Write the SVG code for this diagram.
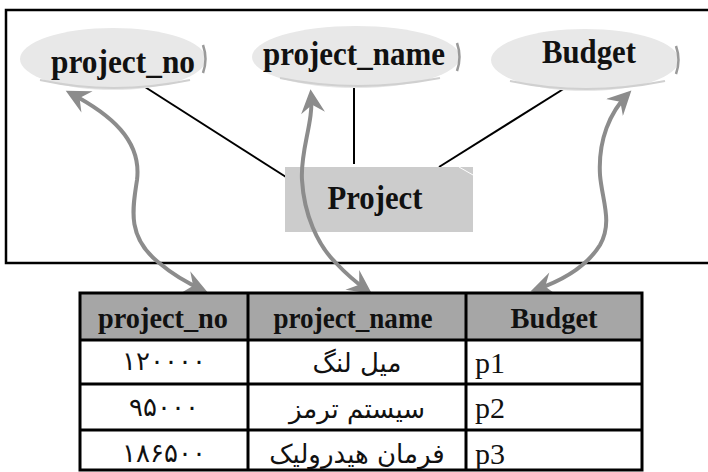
<svg xmlns="http://www.w3.org/2000/svg" width="708" height="472" viewBox="0 0 708 472">
<style>
  .attr { fill: #e8e8e8; }
  .attrEdge { fill: none; stroke: #9a9a9a; stroke-width: 2.5; }
  .lbl { font-family: "Liberation Serif", "Times New Roman", serif; font-weight: bold; font-size: 33px; fill: #111; text-anchor: middle; }
  .hdr { font-family: "Liberation Serif", "Times New Roman", serif; font-weight: bold; font-size: 30px; fill: #111; text-anchor: middle; }
  .cellL { font-family: "Liberation Serif", "Times New Roman", serif; font-size: 30px; fill: #111; }
  .fa { font-family: "DejaVu Sans", "Noto Sans", sans-serif; font-size: 26px; fill: #111; text-anchor: middle; }
  .conn { stroke: #000; stroke-width: 2; fill: none; }
  .arr { stroke: #8c8c8c; stroke-width: 4; fill: none; marker-start: url(#ah); marker-end: url(#ah); }
  .grid { stroke: #000; stroke-width: 3; fill: none; }
</style>
<defs>
  <marker id="ah" viewBox="0 0 10 10" refX="8" refY="5" markerWidth="7" markerHeight="6" orient="auto-start-reverse" markerUnits="strokeWidth">
    <path d="M0,0 L10,5 L0,10 L3.5,5 z" fill="#8c8c8c"/>
  </marker>
</defs>
<rect x="0" y="0" width="708" height="472" fill="#fff"/>
<g id="frame">
  <rect x="6" y="10" width="712" height="253" fill="none" stroke="#000" stroke-width="2.5"/>
</g>
<g id="connectors">
  <line class="conn" x1="145" y1="87" x2="286" y2="177"/>
  <line class="conn" x1="354" y1="88" x2="354" y2="164"/>
  <line class="conn" x1="565" y1="88" x2="439" y2="167"/>
</g>
<g id="attr_project_no">
  <ellipse class="attr" cx="113" cy="59" rx="93" ry="31"/>
  <path class="attrEdge" d="M203,45 Q208,59 203,73"/>
  <path d="M40,80 Q113,96 190,80" fill="none" stroke="#d0d0d0" stroke-width="2"/>
  <text class="lbl" x="123" y="73" textLength="144" lengthAdjust="spacingAndGlyphs">project_no</text>
</g>
<g id="attr_project_name">
  <ellipse class="attr" cx="356" cy="57" rx="104" ry="31"/>
  <path class="attrEdge" d="M457,43 Q462,57 457,71"/>
  <path d="M280,78 Q356,94 440,78" fill="none" stroke="#d0d0d0" stroke-width="2"/>
  <text class="lbl" x="354" y="65" textLength="182" lengthAdjust="spacingAndGlyphs">project_name</text>
</g>
<g id="attr_budget">
  <ellipse class="attr" cx="585" cy="60" rx="94" ry="31"/>
  <path class="attrEdge" d="M676,46 Q681,60 676,74"/>
  <path d="M510,81 Q585,97 665,81" fill="none" stroke="#d0d0d0" stroke-width="2"/>
  <text class="lbl" x="589" y="63" textLength="94" lengthAdjust="spacingAndGlyphs">Budget</text>
</g>
<g id="entity_project">
  <rect x="285" y="167" width="188" height="65" fill="#cccccc"/>
  <line x1="459" y1="167" x2="473" y2="175" stroke="#fff" stroke-width="1"/>
  <text class="lbl" x="375" y="209" textLength="95" lengthAdjust="spacingAndGlyphs">Project</text>
</g>
<g id="mapping_arrows">
  <path class="arr" d="M70,93 C110,114 142,140 137,180 C133,207 126,236 158,262 Q178,279 203,290"/>
  <path class="arr" d="M311,94 C314,122 300,150 302,180 C304,215 318,245 335,262 Q351,279 368,291"/>
  <path class="arr" d="M628,94 C610,112 598,140 600,175 C602,200 613,222 600,245 Q582,274 535,290"/>
</g>
<g id="table">
  <rect x="80" y="293" width="562" height="47" fill="#a6a6a6"/>
  <rect x="80" y="293" width="562" height="177" class="grid"/>
  <line class="grid" x1="80" y1="340" x2="642" y2="340"/>
  <line class="grid" x1="80" y1="384" x2="642" y2="384"/>
  <line class="grid" x1="80" y1="430" x2="642" y2="430"/>
  <line class="grid" x1="248" y1="293" x2="248" y2="470"/>
  <line class="grid" x1="466" y1="293" x2="466" y2="470"/>
  <text class="hdr" x="163" y="328" textLength="130" lengthAdjust="spacingAndGlyphs">project_no</text>
  <text class="hdr" x="353" y="328" textLength="159" lengthAdjust="spacingAndGlyphs">project_name</text>
  <text class="hdr" x="554" y="328" textLength="87" lengthAdjust="spacingAndGlyphs">Budget</text>
  <text class="fa" x="164" y="370">۱۲۰۰۰۰</text>
  <text class="fa" x="357" y="372">میل لنگ</text>
  <text class="cellL" x="475" y="373">p1</text>
  <text class="fa" x="164" y="416">۹۵۰۰۰</text>
  <text class="fa" x="357" y="418">سیستم ترمز</text>
  <text class="cellL" x="475" y="418">p2</text>
  <text class="fa" x="164" y="462">۱۸۶۵۰۰</text>
  <text class="fa" x="357" y="463">فرمان هیدرولیک</text>
  <text class="cellL" x="475" y="464">p3</text>
</g>
</svg>
